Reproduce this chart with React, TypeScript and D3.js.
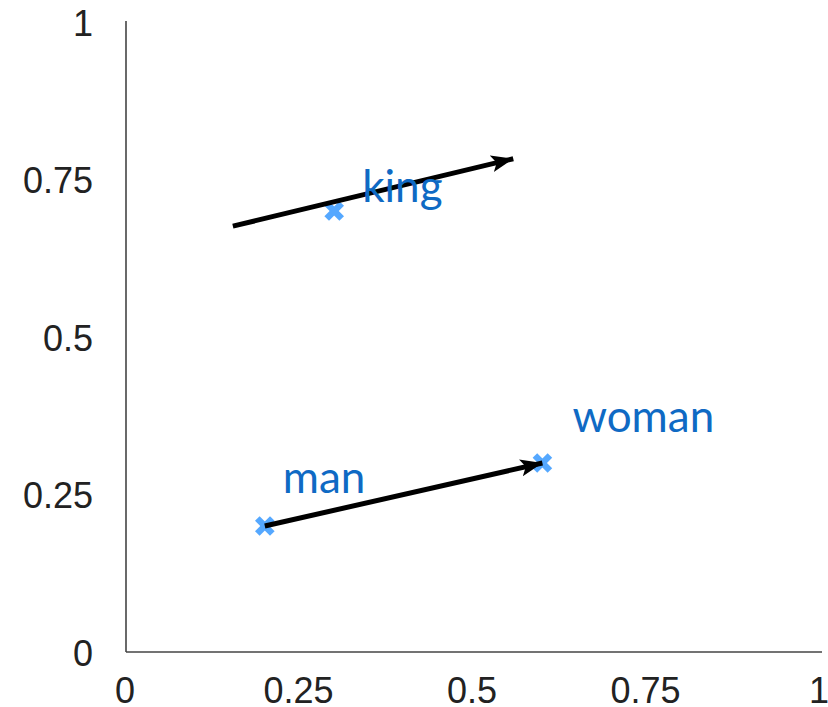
import React from "react";
import * as d3 from "d3";

const W = 828;
const H = 707;

const words = ["king", "man", "woman"];
const wordX = [0.3, 0.2, 0.6];
const wordY = [0.7, 0.2, 0.3];

// arrows: start and end points in data units
const arrowStartX = [0.2, 0.154];
const arrowStartY = [0.2, 0.676];
const arrowEndX = [0.6, 0.558];
const arrowEndY = [0.3, 0.783];

const xTicks = [0, 0.25, 0.5, 0.75, 1];
const yTicks = [0, 0.25, 0.5, 0.75, 1];
const tickLabels = ["0", "0.25", "0.5", "0.75", "1"];

// layout offsets for word labels (px)
const labelDx = [28, 18, 30];
const labelDy = [-9, -33, -31];

export default function App() {
  const x = d3.scaleLinear().domain([0, 1]).range([126, 820]);
  const y = d3.scaleLinear().domain([0, 1]).range([652, 22]);
  const axisColor = "#444";
  const tickFont = "'Liberation Sans', Arial, Helvetica, sans-serif";
  const wordFont = "Lato, 'Open Sans', sans-serif";
  const markerColor = "#55A8FF";
  const wordColor = "#0F6AC4";

  return (
    <svg width={W} height={H} style={{ position: "absolute", left: 0, top: 0, background: "#fff" }}>
      <defs>
        <marker
          id="ah"
          markerUnits="userSpaceOnUse"
          markerWidth={24}
          markerHeight={20}
          refX={22}
          refY={10}
          orient="auto"
          viewBox="0 0 24 20"
        >
          <path d="M0,1.5 L22,10 L0,18.5 L5,10 Z" fill="#000" />
        </marker>
      </defs>

      {/* axes */}
      <line x1={x(0)} y1={y(0)} x2={x(1) + 2} y2={y(0)} stroke={axisColor} strokeWidth={1.6} />
      <line x1={x(0)} y1={y(0)} x2={x(0)} y2={y(1) - 1} stroke={axisColor} strokeWidth={1.6} />

      {xTicks.map((t, i) => (
        <text
          key={"x" + i}
          x={x(t) - 1}
          y={703}
          textAnchor="middle"
          fontFamily={tickFont}
          fontSize={36}
          fill="#222"
        >
          {tickLabels[i]}
        </text>
      ))}
      {yTicks.map((t, i) => (
        <text
          key={"y" + i}
          x={93}
          y={y(t) + 1}
          textAnchor="end"
          dominantBaseline="central"
          fontFamily={tickFont}
          fontSize={36}
          fill="#222"
        >
          {tickLabels[i]}
        </text>
      ))}

      {/* markers */}
      {words.map((w, i) => {
        const cx = x(wordX[i]);
        const cy = y(wordY[i]);
        const s = 7.5;
        return (
          <g key={"m" + w}>
            <line x1={cx - s} y1={cy - s} x2={cx + s} y2={cy + s} stroke={markerColor} strokeWidth={6.5} />
            <line x1={cx - s} y1={cy + s} x2={cx + s} y2={cy - s} stroke={markerColor} strokeWidth={6.5} />
          </g>
        );
      })}

      {/* arrows */}
      {arrowStartX.map((_, i) => (
        <line
          key={"a" + i}
          x1={x(arrowStartX[i])}
          y1={y(arrowStartY[i])}
          x2={x(arrowEndX[i])}
          y2={y(arrowEndY[i])}
          stroke="#000"
          strokeWidth={5}
          markerEnd="url(#ah)"
        />
      ))}

      {/* labels */}
      {words.map((w, i) => (
        <text
          key={"t" + w}
          x={x(wordX[i]) + labelDx[i]}
          y={y(wordY[i]) + labelDy[i]}
          fontFamily={wordFont}
          fontSize={44}
          fill={wordColor}
        >
          {w}
        </text>
      ))}
    </svg>
  );
}
